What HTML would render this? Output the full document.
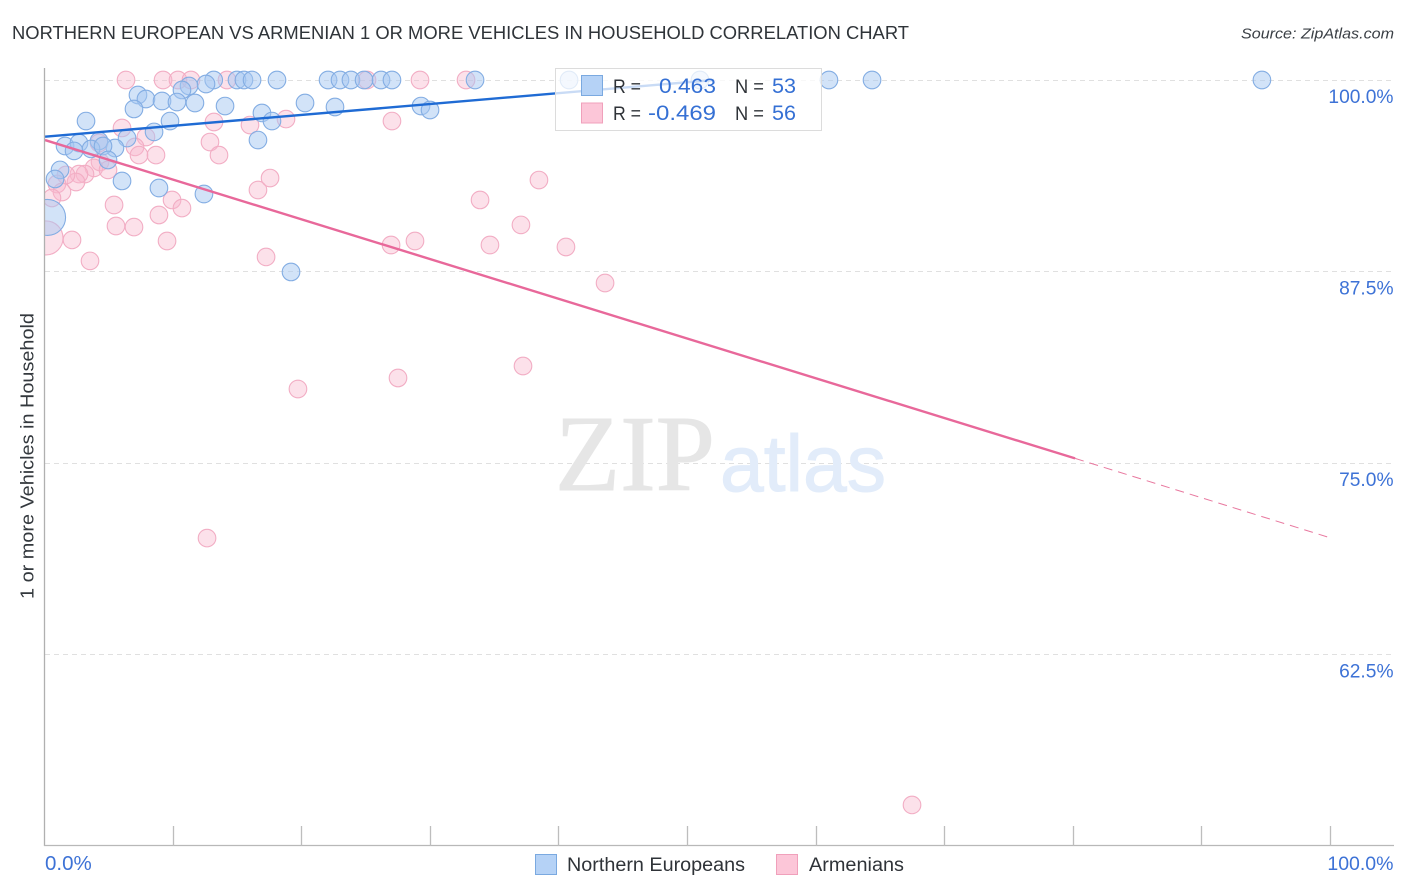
<!DOCTYPE html>
<html lang="en">
<head>
<meta charset="utf-8">
<title>Northern European vs Armenian 1 or more Vehicles in Household Correlation Chart</title>
<style>
html,body{margin:0;padding:0;background:#fff;width:1406px;height:892px;overflow:hidden}
svg{display:block;font-family:"Liberation Sans",sans-serif}
</style>
</head>
<body>
<svg id="chart" width="1406" height="892" viewBox="0 0 1406 892" xmlns="http://www.w3.org/2000/svg">
  <defs>
    <clipPath id="plot-clip"><rect x="45" y="60" width="1361" height="790"/></clipPath>
  </defs>
  <text x="12" y="39" font-size="18.5" fill="#2f3439" textLength="897" lengthAdjust="spacingAndGlyphs">NORTHERN EUROPEAN VS ARMENIAN 1 OR MORE VEHICLES IN HOUSEHOLD CORRELATION CHART</text>
  <text x="1241" y="38.500" font-size="15" font-style="italic" fill="#3a3f45" textLength="153" lengthAdjust="spacingAndGlyphs">Source: ZipAtlas.com</text>
  <text transform="translate(33.500,599) rotate(-90)" font-size="18.500" fill="#33383d" textLength="286" lengthAdjust="spacingAndGlyphs">1 or more Vehicles in Household</text>

  <g id="grid"></g>

  <g>
    <text x="555" y="490" font-family="'Liberation Serif',serif" font-size="108" fill="#e6e6e6" stroke="#e6e6e6" stroke-width="1" textLength="160" lengthAdjust="spacingAndGlyphs">ZIP</text>
    <text x="720" y="491" font-size="80" fill="#e2ecfa" stroke="#e2ecfa" stroke-width="1" textLength="166" lengthAdjust="spacingAndGlyphs">atlas</text>
  </g>

  <g id="points" clip-path="url(#plot-clip)"></g>
  <g id="trends"></g>

  <g id="axes">
    <line x1="44.500" y1="68" x2="44.500" y2="846" stroke="#b0b0b0" stroke-width="1.300"/>
    <line x1="44" y1="845.500" x2="1394" y2="845.500" stroke="#b8b8b8" stroke-width="1.300"/>
  </g>

  <g>
    <rect x="555.500" y="68.500" width="266" height="62" fill="#ffffff" fill-opacity="0.76" stroke="#dcdcdc" stroke-width="1"/>
    <rect x="581.500" y="75.500" width="21" height="20" fill="#b5d2f6" stroke="#7aa9e0"/>
    <rect x="581.500" y="103" width="21" height="20" fill="#fcc6d8" stroke="#f0a0bb"/>
    <text x="613" y="93" font-size="19" fill="#2f3338" textLength="28" lengthAdjust="spacingAndGlyphs">R =</text>
    <text x="659" y="93" font-size="21" fill="#3570d4" textLength="57" lengthAdjust="spacingAndGlyphs">0.463</text>
    <text x="735" y="93" font-size="19" fill="#2f3338" textLength="29" lengthAdjust="spacingAndGlyphs">N =</text>
    <text x="772" y="93" font-size="21" fill="#3570d4" textLength="24" lengthAdjust="spacingAndGlyphs">53</text>
    <text x="613" y="120" font-size="19" fill="#2f3338" textLength="28" lengthAdjust="spacingAndGlyphs">R =</text>
    <text x="648" y="120" font-size="21" fill="#3570d4" textLength="68" lengthAdjust="spacingAndGlyphs">-0.469</text>
    <text x="735" y="120" font-size="19" fill="#2f3338" textLength="29" lengthAdjust="spacingAndGlyphs">N =</text>
    <text x="772" y="120" font-size="21" fill="#3570d4" textLength="24" lengthAdjust="spacingAndGlyphs">56</text>
  </g>

  <g>
    <rect x="535.500" y="854.500" width="21" height="20" fill="#b5d2f6" stroke="#7aa9e0"/>
    <text x="567" y="871" font-size="19" fill="#2f3338" textLength="178" lengthAdjust="spacingAndGlyphs">Northern Europeans</text>
    <rect x="776.500" y="854.500" width="21" height="20" fill="#fcc6d8" stroke="#f0a0bb"/>
    <text x="809" y="871" font-size="19" fill="#2f3338" textLength="95" lengthAdjust="spacingAndGlyphs">Armenians</text>
  </g>
</svg>

<script>
const yTickValues = [100, 87.5, 75, 62.5];
const yTickLabels = ["100.0%", "87.5%", "75.0%", "62.5%"];
const xTickValues = [10, 20, 30, 40, 50, 60, 70, 80, 90, 100];
const xEndLabels = ["0.0%", "100.0%"];
const xEndValues = [0, 100];

const blueX = [13.12,12.52,11.20,10.65,7.23,7.85,6.92,9.10,10.26,11.66,14.00,3.19,9.72,8.48,6.38,4.20,5.44,1.56,2.64,2.26,3.58,4.51,4.90,1.17,0.78,5.99,8.86,12.36,19.13,0.20,16.87,17.65,16.56,20.22,14.93,15.47,16.10,18.04,22.01,22.94,23.79,24.81,26.13,26.98,33.44,40.75,22.55,29.24,29.94,50.93,60.96,64.31,94.63];
const blueY = [100,99.74,99.61,99.35,99.02,98.76,98.11,98.63,98.56,98.50,98.30,97.32,97.32,96.61,96.21,96.02,95.56,95.69,95.89,95.37,95.50,95.69,94.78,94.13,93.54,93.41,92.95,92.56,87.47,91.03,97.85,97.32,96.08,98.50,100,100,100,100,100,100,100,100,100,100,100,100,98.24,98.30,98.04,100,100,100,100];
const blueLargeIndex = [29];

const pinkX = [6.30,9.18,10.34,11.35,14.15,13.14,15.94,18.74,5.99,7.85,7.00,7.31,8.63,12.83,13.53,4.20,4.28,3.81,3.11,2.64,2.41,1.63,0.93,1.32,0.54,4.90,0.08,2.10,3.50,5.37,5.52,6.92,8.86,9.88,10.65,9.49,17.19,16.56,17.50,25.04,29.16,32.74,26.98,38.41,33.83,37.01,26.91,28.77,34.60,40.51,43.55,37.17,27.45,19.67,12.60,67.42];
const pinkY = [100,100,100,100,100,97.26,97.06,97.45,96.87,96.28,95.63,95.10,95.10,95.95,95.10,95.89,94.65,94.26,93.86,93.86,93.34,93.80,93.21,92.69,92.30,94.13,89.69,89.56,88.19,91.84,90.47,90.40,91.19,92.17,91.64,89.49,88.45,92.82,93.60,100,100,100,97.32,93.47,92.17,90.54,89.23,89.49,89.23,89.10,86.75,81.33,80.55,79.83,70.10,52.68];
const pinkLargeIndex = [26];

const blueTrendX = [0, 52];
const blueTrendY = [96.3, 100];
const pinkTrendX = [0, 80.1];
const pinkTrendY = [96.08, 75.3];
const pinkDashX = [80.1, 100];
const pinkDashY = [75.3, 70.1];

function xScale(v) { return 45 + (v / 100) * 1286; }
function yScale(v) { return 80 + (100 - v) * 15.32; }

const NS = "http://www.w3.org/2000/svg";
function mk(tag, parentId, attrs) {
  const el = document.createElementNS(NS, tag);
  for (const k in attrs) el.setAttribute(k, attrs[k]);
  document.getElementById(parentId).appendChild(el);
  return el;
}

yTickValues.forEach(function (v, i) {
  const y = Math.floor(yScale(v)) + 0.5;
  const line = mk("line", "grid", { x1: 45, y1: y, x2: 1394, y2: y, stroke: "#e0e0e0", "stroke-width": 1, "stroke-dasharray": "5 4" });
  
  
  const t = mk("text", "axes", { x: 1393.5, y: yScale(v) + 23, "text-anchor": "end", "font-size": 19.2, fill: "#3d72d6" });
  t.textContent = yTickLabels[i];
  
  
});

xTickValues.forEach(function (v) {
  const x = Math.round(xScale(v)) - 0.5;
  const tick = mk("line", "axes", { x1: x, y1: 826, x2: x, y2: 846, stroke: "#bdbdbd", "stroke-width": 1.3 });
  
  
});

xEndValues.forEach(function (v, i) {
  const t = mk("text", "axes", { x: i === 0 ? xScale(v) : xScale(v) + 62.5, y: 870, "text-anchor": i === 0 ? "start" : "end", "font-size": i === 0 ? 20.5 : 19.5, fill: "#3d72d6" });
  t.textContent = xEndLabels[i];
  
  
});

pinkX.forEach(function (v, i) {
  const c = mk("circle", "points", { cx: xScale(v), cy: yScale(pinkY[i]), r: pinkLargeIndex.indexOf(i) >= 0 ? 17 : 8.8, fill: "#f9b8cd", "fill-opacity": 0.42, stroke: "#f2adc4", "stroke-width": 1.1 });
  
  
});

blueX.forEach(function (v, i) {
  const c = mk("circle", "points", { cx: xScale(v), cy: yScale(blueY[i]), r: blueLargeIndex.indexOf(i) >= 0 ? 18 : 8.8, fill: "#a5c8f2", "fill-opacity": 0.5, stroke: "#83ade3", "stroke-width": 1.1 });
  
  
});

const blueLine = mk("line", "trends", { x1: xScale(blueTrendX[0]), y1: yScale(blueTrendY[0]), x2: xScale(blueTrendX[1]), y2: yScale(blueTrendY[1]), stroke: "#1f6bd4", "stroke-width": 2.4 });



const pinkLine = mk("line", "trends", { x1: xScale(pinkTrendX[0]), y1: yScale(pinkTrendY[0]), x2: xScale(pinkTrendX[1]), y2: yScale(pinkTrendY[1]), stroke: "#e8689a", "stroke-width": 2.4 });



const pinkDash = mk("line", "trends", { x1: xScale(pinkDashX[0]), y1: yScale(pinkDashY[0]), x2: xScale(pinkDashX[1]), y2: yScale(pinkDashY[1]), stroke: "#e8789f", "stroke-width": 1, "stroke-dasharray": "9 6" });


</script>
</body>
</html>
